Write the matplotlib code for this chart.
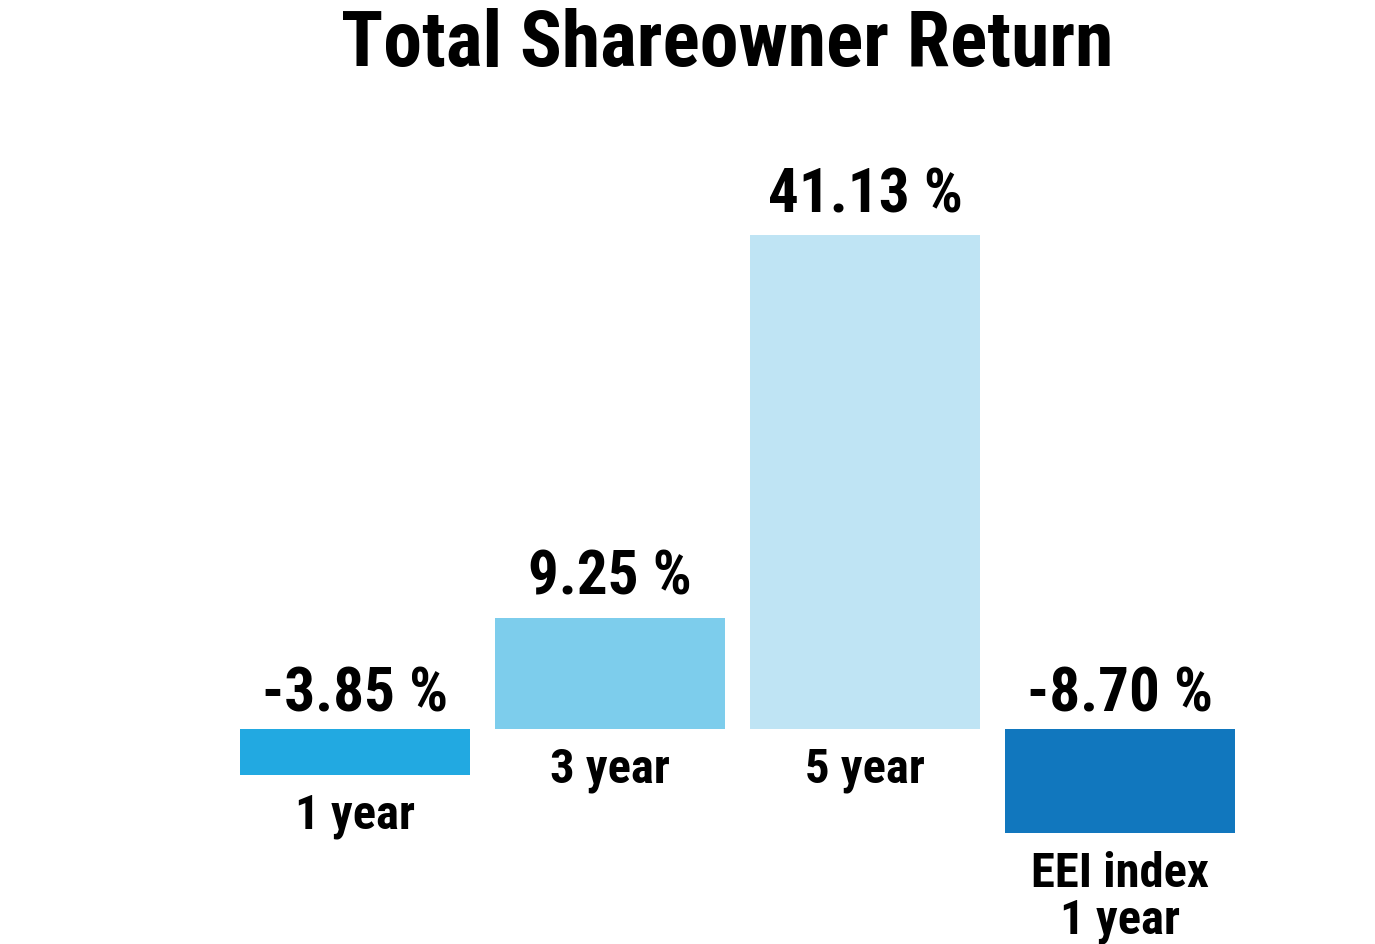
import matplotlib
matplotlib.use('Agg')
import matplotlib.pyplot as plt

plt.rcParams['font.family'] = ['Roboto Condensed', 'DejaVu Sans']

categories = ['1 year', '3 year', '5 year', 'EEI index\n1 year']
values = [-3.85, 9.25, 41.13, -8.70]
value_labels = ['-3.85 %', '9.25 %', '41.13 %', '-8.70 %']
colors = ['#22a9e1', '#7dcdec', '#bfe4f4', '#1177be']

fig = plt.figure(figsize=(13.75, 9.45), dpi=100)
ax = fig.add_axes([0, 0, 1, 1])

x = range(len(values))
ax.bar(x, values, width=0.902, color=colors)

# 255 px per category, 12 px per percent, zero line at y=730 px
ax.set_xlim(-355 / 255, 1020 / 255)
ax.set_ylim(-215 / 12, 730 / 12)
ax.axis('off')

for i, v in enumerate(values):
    if v > 0:
        ax.text(i, v + 2.0, value_labels[i], ha='center', va='baseline',
                fontsize=44, fontweight='bold')
    else:
        ax.text(i, 1.5, value_labels[i], ha='center', va='baseline',
                fontsize=44, fontweight='bold')
    bottom = min(v, 0)
    for j, line in enumerate(categories[i].split('\n')):
        ax.text(i, bottom - 4.4 - j * 3.85, line, ha='center', va='baseline',
                fontsize=35, fontweight='bold')

fig.text(0.529, 1 - 66 / 945, 'Total Shareowner Return', ha='center',
         va='baseline', fontsize=56, fontweight='bold')

fig.savefig('out.png', dpi=100)
